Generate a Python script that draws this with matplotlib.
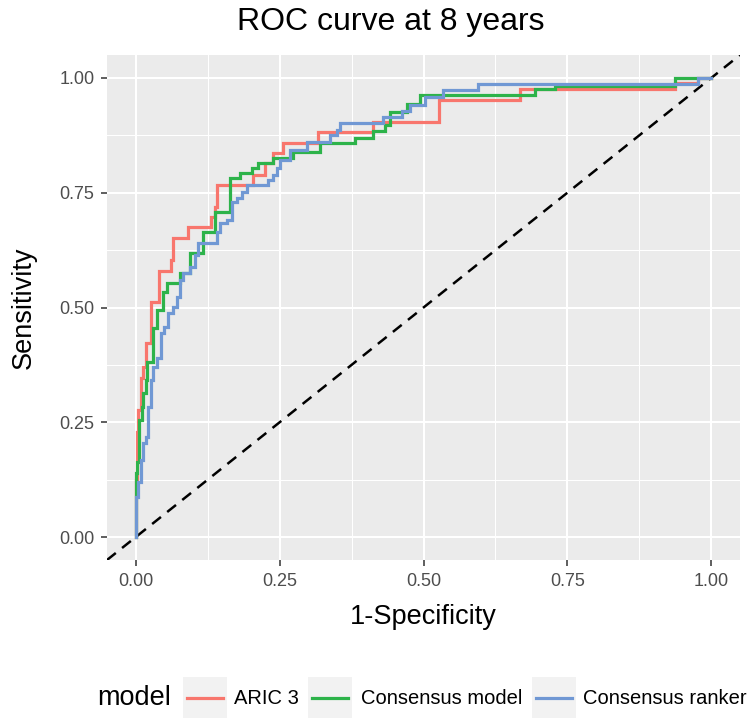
import matplotlib
matplotlib.use("Agg")
import matplotlib.pyplot as plt
from matplotlib.patches import Rectangle
from matplotlib.lines import Line2D

plt.rcParams['font.family'] = ['Liberation Sans', 'DejaVu Sans']

# ---- data ----
aric_fpr = [0, 0, 0.0017, 0.0035, 0.0087, 0.012, 0.017, 0.026, 0.040, 0.061, 0.064,
            0.090, 0.130, 0.137, 0.141, 0.203, 0.224, 0.238, 0.256, 0.317, 0.412,
            0.527, 0.668, 0.937, 0.977, 1.0]
aric_tpr = [0, 0.124, 0.229, 0.277, 0.346, 0.370, 0.423, 0.512, 0.580, 0.603, 0.651,
            0.675, 0.697, 0.719, 0.767, 0.789, 0.815, 0.837, 0.858, 0.882, 0.904,
            0.952, 0.976, 0.989, 1.0, 1.0]

cons_fpr = [0, 0, 0.002, 0.005, 0.010, 0.012, 0.017, 0.019, 0.030, 0.037, 0.047,
            0.054, 0.077, 0.094, 0.117, 0.137, 0.163, 0.181, 0.202, 0.212, 0.238,
            0.273, 0.320, 0.381, 0.412, 0.433, 0.442, 0.471, 0.494, 0.694, 0.729,
            0.937, 1.0]
cons_tpr = [0, 0.139, 0.163, 0.255, 0.283, 0.314, 0.342, 0.381, 0.455, 0.495, 0.534,
            0.553, 0.575, 0.619, 0.664, 0.708, 0.782, 0.793, 0.804, 0.815, 0.826,
            0.839, 0.858, 0.869, 0.885, 0.898, 0.926, 0.943, 0.963, 0.976, 0.983,
            1.0, 1.0]

rank_fpr = [0, 0, 0.0035, 0.0087, 0.012, 0.017, 0.021, 0.026, 0.030, 0.037, 0.043,
            0.049, 0.056, 0.064, 0.071, 0.077, 0.082, 0.094, 0.103, 0.108, 0.141,
            0.146, 0.158, 0.167, 0.176, 0.184, 0.193, 0.230, 0.238, 0.245, 0.250,
            0.268, 0.297, 0.337, 0.350, 0.355, 0.430, 0.463, 0.477, 0.503, 0.534,
            0.595, 0.977, 1.0]
rank_tpr = [0, 0.087, 0.120, 0.168, 0.205, 0.218, 0.283, 0.342, 0.370, 0.390, 0.444,
            0.458, 0.488, 0.501, 0.523, 0.560, 0.575, 0.588, 0.614, 0.641, 0.664,
            0.684, 0.691, 0.730, 0.739, 0.752, 0.767, 0.778, 0.789, 0.804, 0.821,
            0.843, 0.861, 0.876, 0.887, 0.902, 0.915, 0.928, 0.941, 0.959, 0.974,
            0.987, 1.0, 1.0]

models = ["ARIC 3", "Consensus model", "Consensus ranker"]
colors = ["#F8766D", "#2DB34A", "#7098D4"]
series = [(aric_fpr, aric_tpr), (cons_fpr, cons_tpr), (rank_fpr, rank_tpr)]

ticks = [0.0, 0.25, 0.5, 0.75, 1.0]
tick_labels = ["0.00", "0.25", "0.50", "0.75", "1.00"]

W, H = 755, 719
fig = plt.figure(figsize=(W / 100, H / 100), dpi=100)
fig.patch.set_facecolor("white")

L, R, T, B = 107, 740, 55, 560
ax = fig.add_axes([L / W, 1 - B / H, (R - L) / W, (B - T) / H])
ax.set_facecolor("#EBEBEB")
for s in ax.spines.values():
    s.set_visible(False)

ax.set_xlim(-0.05, 1.05)
ax.set_ylim(-0.05, 1.05)
ax.set_xticks(ticks)
ax.set_xticklabels(tick_labels)
ax.set_yticks(ticks)
ax.set_yticklabels(tick_labels)
ax.set_xticks([0.125, 0.375, 0.625, 0.875], minor=True)
ax.set_yticks([0.125, 0.375, 0.625, 0.875], minor=True)
ax.grid(which="major", color="white", lw=1.5)
ax.grid(which="minor", color="white", lw=0.75)
ax.set_axisbelow(True)
ax.tick_params(which="major", length=4, width=1.1, color="#333333",
               labelsize=13, labelcolor="#4D4D4D", pad=5)
ax.tick_params(which="minor", length=0)

# diagonal reference line
ax.plot([-0.05, 1.05], [-0.05, 1.05], color="black", lw=1.8,
        linestyle=(0, (4.5, 3.2)), zorder=3)

for (fx, ty), c in zip(series, colors):
    ax.plot(fx, ty, drawstyle="steps-post", color=c, lw=2.3, zorder=4,
            solid_joinstyle="miter")

fig.text(423 / W, 1 - 617 / H, "1-Specificity", fontsize=19.5,
         ha="center", va="center")
fig.text(24 / W, 1 - 308 / H, "Sensitivity", fontsize=19.5,
         ha="center", va="center", rotation=90)

fig.text(391 / W, 1 - 22 / H, "ROC curve at 8 years", fontsize=23,
         ha="center", va="center")

# ---- legend (manual, ggplot-style at bottom) ----
ly = 1 - 698 / H
fig.text(97 / W, ly, "model", fontsize=19.5, ha="left", va="center")
key_w, key_h = 44, 41
key_x = [183, 308, 532]
text_x = [234, 361, 583]
for kx, tx, c, m in zip(key_x, text_x, colors, models):
    fig.patches.append(Rectangle((kx / W, 1 - 718 / H), key_w / W, key_h / H,
                                 transform=fig.transFigure, facecolor="#F2F2F2",
                                 edgecolor="none"))
    fig.lines.append(Line2D([(kx + 4) / W, (kx + key_w - 4) / W], [ly, ly],
                            transform=fig.transFigure, color=c, lw=2.3))
    fig.text(tx / W, ly, m, fontsize=14.5, ha="left", va="center")

fig.savefig("out.png", dpi=100)
